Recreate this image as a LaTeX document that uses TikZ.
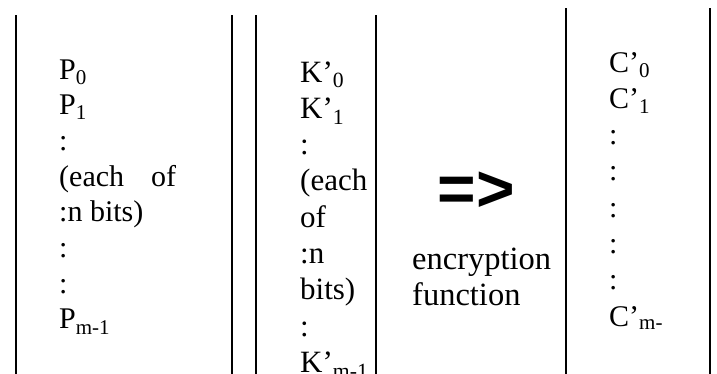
\documentclass[tikz,border=0pt]{standalone}
\usepackage{fontspec}
\setmainfont{Liberation Serif}
\newfontfamily\arrowfont{Liberation Sans}
\begin{document}
\begin{tikzpicture}[x=1pt,y=-1pt,
  rule/.style={line width=1.7pt},
  txt/.style={anchor=base west,inner sep=0pt,font=\fontsize{30}{36}\selectfont},
  keytxt/.style={txt,font=\fontsize{31}{36}\selectfont},
  captxt/.style={txt,font=\fontsize{32.5}{38}\selectfont},
  bigarrow/.style={anchor=center,inner sep=0pt,font=\arrowfont\bfseries\fontsize{66}{70}\selectfont},
]
\useasboundingbox (0,0) rectangle (717,373);
\clip (0,0) rectangle (717,373);

% column rules
\foreach \x/\t [count=\n] in {16/15,232/15,256/15,376/15,566/8,710/8}
  \draw[rule] (\x,\t) coordinate (r\n top) -- (\x,380) coordinate (r\n bot);

% plaintext blocks
\foreach \s [count=\i from 0] in {{P\textsubscript{0}},{P\textsubscript{1}},{:},{(each\hspace{27pt}of},{:n bits)},{:},{:},{P\textsubscript{m-1}}}
  \node[txt] (p\i) at (59,79+35.7*\i) {\s};

% key blocks
\foreach \s [count=\i from 0] in {{K’\textsubscript{0}},{K’\textsubscript{1}},{:},{(each},{of},{:n},{bits)},{:},{K’\textsubscript{m-1}}}
  \node[keytxt] (k\i) at (300,82+36.3*\i) {\s};

% ciphertext blocks
\foreach \s [count=\i from 0] in {{C’\textsubscript{0}},{C’\textsubscript{1}},{:},{:},{:},{:},{:},{C’\textsubscript{m-}}}
  \node[txt] (c\i) at (609,72+36.3*\i) {\s};

% encryption step
\node[bigarrow] (arrow) at (476,192) {=>};
\node[captxt] (enc) at (412,269) {encryption};
\node[captxt] (fun) at (412,305) {function};
\end{tikzpicture}
\end{document}
